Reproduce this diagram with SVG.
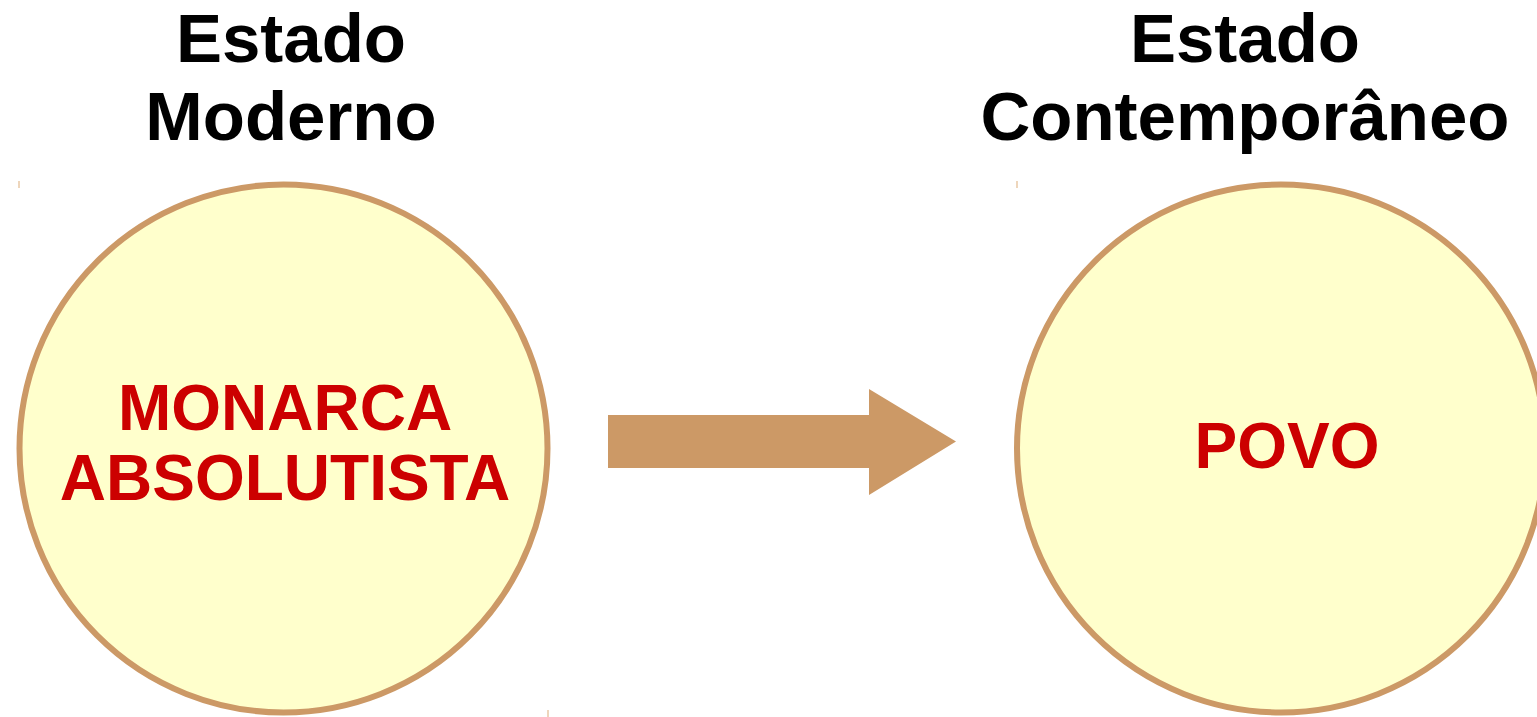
<svg xmlns="http://www.w3.org/2000/svg" width="1537" height="717" viewBox="0 0 1537 717">
<style>
.title{font-family:"Liberation Sans",Arial,sans-serif;font-weight:bold;font-size:69px;fill:#000;text-anchor:middle}
.lbl{font-family:"Liberation Sans",Arial,sans-serif;font-weight:bold;font-size:64px;fill:#CC0000;text-anchor:middle}
.node{fill:#FFFFCC;stroke:#CC9966;stroke-width:6}
.tick{stroke:#E8C9A6;stroke-width:1.5}
</style>
<rect width="1537" height="717" fill="#fff"/>
<g id="title-left">
<text class="title" x="291" y="62">Estado</text>
<text class="title" x="291" y="140">Moderno</text>
</g>
<g id="title-right">
<text class="title" x="1245" y="62">Estado</text>
<text class="title" x="1245" y="140">Contemporâneo</text>
</g>
<g id="node-monarca">
<line class="tick" x1="19" y1="181" x2="19" y2="188"/>
<line class="tick" x1="548" y1="710" x2="548" y2="717"/>
<circle class="node" cx="283.5" cy="448.5" r="264"/>
<text class="lbl" x="285" y="430">MONARCA</text>
<text class="lbl" x="285" y="500">ABSOLUTISTA</text>
</g>
<g id="node-povo">
<line class="tick" x1="1017" y1="181" x2="1017" y2="188"/>
<circle class="node" cx="1281" cy="448.5" r="264"/>
<text class="lbl" x="1287" y="468">POVO</text>
</g>
<g id="connectors">
<polygon points="608,415 869,415 869,389 956,441.5 869,495 869,468 608,468" fill="#CC9966"/>
</g>
</svg>
